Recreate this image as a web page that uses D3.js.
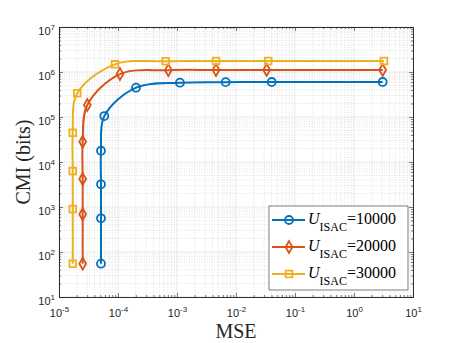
<!DOCTYPE html>
<html>
<head>
<meta charset="utf-8">
<script src="https://cdn.jsdelivr.net/npm/d3@7"></script>
<style>
  body { margin: 0; background: #fff; }
  svg { display: block; }
</style>
</head>
<body>
<div id="chart"></div>
<script>
// values
const mse10000 = [5.15e-5, 5.15e-5, 5.15e-5, 5.15e-5, 5.86e-5, 2.02e-4, 1.12e-3, 6.68e-3, 4.03e-2, 3.06];
const cmi10000 = [55, 561, 3190, 17800, 1.05e5, 4.48e5, 5.78e5, 5.95e5, 6.0e5, 6.0e5];
const mse20000 = [2.52e-5, 2.52e-5, 2.52e-5, 2.52e-5, 3.02e-5, 1.08e-4, 7.13e-4, 4.58e-3, 3.31e-2, 3.06];
const cmi20000 = [55, 689, 4190, 28200, 1.85e5, 9.0e5, 1.1e6, 1.11e6, 1.11e6, 1.11e6];
const mse30000 = [1.71e-5, 1.71e-5, 1.71e-5, 1.71e-5, 2.04e-5, 8.89e-5, 6.43e-4, 4.58e-3, 3.52e-2, 3.22];
const cmi30000 = [55, 903, 6310, 44800, 3.36e5, 1.48e6, 1.74e6, 1.75e6, 1.75e6, 1.75e6];
const seriesNames = ['10000', '20000', '30000'];
const xTicks = [1e-5, 1e-4, 1e-3, 1e-2, 1e-1, 1e0, 1e1];
const yTicks = [1e1, 1e2, 1e3, 1e4, 1e5, 1e6, 1e7];

const width = 457;
const height = 343;
const margin = { top: 27, left: 59, right: 44, bottom: 46 };
const chartWidth = width - margin.left - margin.right;
const chartHeight = height - margin.top - margin.bottom;
const colors = ['#0072BD', '#D95319', '#EDB120'];
const shapes = ['circle', 'diamond', 'square'];

const series = [
  { name: seriesNames[0], x: mse10000, y: cmi10000 },
  { name: seriesNames[1], x: mse20000, y: cmi20000 },
  { name: seriesNames[2], x: mse30000, y: cmi30000 },
];

const xScale = d3.scaleLog().domain([1e-5, 1e1]).range([0, chartWidth]);
const yScale = d3.scaleLog().domain([1e1, 1e7]).range([chartHeight, 0]);

// minor tick values 2..9 in every decade
const minors = (ticks) => {
  const out = [];
  ticks.slice(0, -1).forEach((t) => {
    for (let k = 2; k < 10; k++) out.push(t * k);
  });
  return out;
};
const xMinor = minors(xTicks);
const yMinor = minors(yTicks);

const svg = d3.select('#chart').append('svg')
  .attr('width', width)
  .attr('height', height);

const g = svg.append('g')
  .attr('transform', `translate(${margin.left}, ${margin.top})`);

// grid
g.append('g').selectAll('line').data(xMinor).join('line')
  .attr('x1', d => xScale(d)).attr('x2', d => xScale(d))
  .attr('y1', 0).attr('y2', chartHeight)
  .attr('stroke', '#cfcfcf').attr('stroke-width', 0.6).attr('stroke-dasharray', '1,1.5');
g.append('g').selectAll('line').data(yMinor).join('line')
  .attr('y1', d => yScale(d)).attr('y2', d => yScale(d))
  .attr('x1', 0).attr('x2', chartWidth)
  .attr('stroke', '#cfcfcf').attr('stroke-width', 0.6).attr('stroke-dasharray', '1,1.5');
g.append('g').selectAll('line').data(xTicks).join('line')
  .attr('x1', d => xScale(d)).attr('x2', d => xScale(d))
  .attr('y1', 0).attr('y2', chartHeight)
  .attr('stroke', '#e3e3e3').attr('stroke-width', 0.8);
g.append('g').selectAll('line').data(yTicks).join('line')
  .attr('y1', d => yScale(d)).attr('y2', d => yScale(d))
  .attr('x1', 0).attr('x2', chartWidth)
  .attr('stroke', '#e3e3e3').attr('stroke-width', 0.8);

// axes, ticks pointing inward
const supLabel = (sel, anchor, y) => {
  sel.selectAll('.tick text').each(function(d) {
    const t = d3.select(this);
    t.text(null)
      .attr('text-anchor', anchor)
      .attr('dy', null)
      .attr('y', y)
      .attr('fill', '#262626');
    t.append('tspan').text('10');
    t.append('tspan').attr('dy', -5).attr('font-size', 8).text(Math.round(Math.log10(d)));
  });
};

const styleAxis = (sel) => {
  sel.select('.domain').attr('stroke', '#262626').attr('stroke-width', 0.8);
  sel.selectAll('.tick line').attr('stroke', '#262626').attr('stroke-width', 0.6);
  sel.attr('font-family', '"Liberation Sans", Arial, sans-serif').attr('font-size', 11);
};

g.append('g')
  .attr('transform', `translate(0, ${chartHeight})`)
  .call(d3.axisBottom(xScale).tickValues(xTicks).tickSizeInner(-4).tickSizeOuter(0).tickPadding(0))
  .call(styleAxis)
  .call(s => supLabel(s, 'middle', 20));

g.append('g')
  .attr('transform', `translate(0, ${chartHeight})`)
  .call(d3.axisBottom(xScale).tickValues(xMinor).tickSizeInner(-2).tickSizeOuter(0).tickFormat(''))
  .call(styleAxis);

g.append('g')
  .call(d3.axisTop(xScale).tickValues(xTicks).tickSizeInner(-4).tickSizeOuter(0).tickFormat(''))
  .call(styleAxis);
g.append('g')
  .call(d3.axisTop(xScale).tickValues(xMinor).tickSizeInner(-2).tickSizeOuter(0).tickFormat(''))
  .call(styleAxis);

g.append('g')
  .call(d3.axisLeft(yScale).tickValues(yTicks).tickSizeInner(-4).tickSizeOuter(0).tickPadding(0))
  .call(styleAxis)
  .call(s => {
    supLabel(s, 'end', 7);
    s.selectAll('.tick text').attr('x', -4);
  });
g.append('g')
  .call(d3.axisLeft(yScale).tickValues(yMinor).tickSizeInner(-2).tickSizeOuter(0).tickFormat(''))
  .call(styleAxis);

g.append('g')
  .attr('transform', `translate(${chartWidth}, 0)`)
  .call(d3.axisRight(yScale).tickValues(yTicks).tickSizeInner(-4).tickSizeOuter(0).tickFormat(''))
  .call(styleAxis);
g.append('g')
  .attr('transform', `translate(${chartWidth}, 0)`)
  .call(d3.axisRight(yScale).tickValues(yMinor).tickSizeInner(-2).tickSizeOuter(0).tickFormat(''))
  .call(styleAxis);

// axis titles
svg.append('text')
  .attr('x', margin.left + chartWidth / 2)
  .attr('y', 338)
  .attr('text-anchor', 'middle')
  .attr('font-family', '"Liberation Serif", "Times New Roman", serif')
  .attr('font-size', 20)
  .attr('fill', '#262626')
  .text('MSE');

svg.append('text')
  .attr('transform', `translate(30, ${margin.top + chartHeight / 2}) rotate(-90)`)
  .attr('text-anchor', 'middle')
  .attr('font-family', '"Liberation Serif", "Times New Roman", serif')
  .attr('font-size', 20)
  .attr('fill', '#262626')
  .text('CMI (bits)');

// markers
const symbolFor = (shape) => {
  if (shape === 'circle') return d3.symbol().type(d3.symbolCircle).size(50)();
  if (shape === 'diamond') return d3.symbol().type(d3.symbolDiamond).size(40)();
  return d3.symbol().type(d3.symbolSquare).size(45)();
};

const line = d3.line()
  .x(d => xScale(d[0]))
  .y(d => yScale(d[1]))
  .curve(d3.curveCatmullRom.alpha(0.5));

series.forEach((s, i) => {
  const pts = s.x.map((v, j) => [v, s.y[j]]);
  g.append('path')
    .datum(pts)
    .attr('d', line)
    .attr('fill', 'none')
    .attr('stroke', colors[i])
    .attr('stroke-width', 2);
  g.append('g').selectAll('path').data(pts).join('path')
    .attr('transform', d => `translate(${xScale(d[0])}, ${yScale(d[1])})`)
    .attr('d', symbolFor(shapes[i]))
    .attr('fill', 'none')
    .attr('stroke', colors[i])
    .attr('stroke-width', 1.8);
});

// legend
const legend = svg.append('g').attr('transform', 'translate(269, 206)');
legend.append('rect')
  .attr('width', 139).attr('height', 84)
  .attr('fill', '#fff')
  .attr('stroke', '#262626').attr('stroke-width', 0.6);

series.forEach((s, i) => {
  const row = legend.append('g').attr('transform', `translate(0, ${14 + i * 27})`);
  row.append('line')
    .attr('x1', 3).attr('x2', 36)
    .attr('stroke', colors[i]).attr('stroke-width', 2);
  row.append('path')
    .attr('transform', 'translate(20, 0)')
    .attr('d', symbolFor(shapes[i]))
    .attr('fill', 'none')
    .attr('stroke', colors[i])
    .attr('stroke-width', 1.8);
  const t = row.append('text')
    .attr('x', 39).attr('y', 4)
    .attr('font-family', '"Liberation Serif", "Times New Roman", serif')
    .attr('font-size', 16)
    .attr('fill', '#000');
  t.append('tspan').attr('font-style', 'italic').text('U');
  t.append('tspan').attr('font-size', 12).attr('dy', 7).text('ISAC');
  t.append('tspan').attr('dy', -7).text('=' + s.name);
});
</script>
</body>
</html>
